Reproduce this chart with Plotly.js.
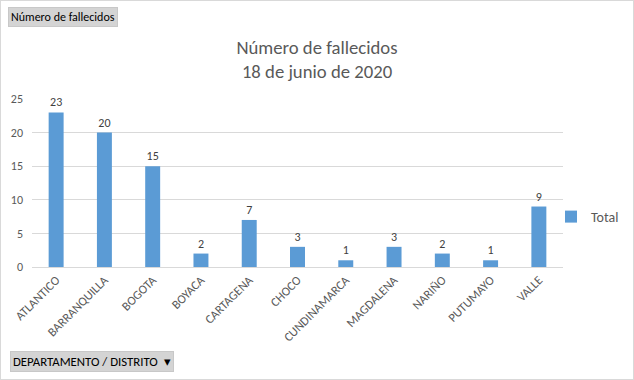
<!DOCTYPE html>
<html><head><meta charset="utf-8">
<script src="https://cdn.plot.ly/plotly-3.0.1.min.js"></script>
<style>html,body{margin:0;padding:0;background:#fff;}#c{width:632px;height:378px;border:1px solid #d9d9d9;}</style>
</head><body><div id="c"></div>
<script>
const categories = ["ATLANTICO","BARRANQUILLA","BOGOTA","BOYACA","CARTAGENA","CHOCO","CUNDINAMARCA","MAGDALENA","NARIÑO","PUTUMAYO","VALLE"];
const totals = [23,20,15,2,7,3,1,3,2,1,9];
const yTicks = [0,5,10,15,20,25];
const font = "Calibri, Carlito, 'Open Sans', 'Liberation Sans', sans-serif";
const W = 632, H = 378, L = 31, R = 0, T = 98, B = 112;
const pw = W - L - R, ph = H - T - B;
const px = x => (x - 1 - L) / pw;
const py = y => (H - B - (y - 1)) / ph;
Plotly.newPlot('c', [{
  type: 'bar', x: categories, y: totals, name: 'Total',
  marker: {color: '#5b9bd5'},
  text: totals.map(String), textposition: 'outside', cliponaxis: false,
  textfont: {family: font, size: 12, color: '#404040'}
}], {
  width: W, height: H,
  margin: {l: L, r: R, t: T, b: B},
  paper_bgcolor: '#fff', plot_bgcolor: '#fff',
  bargap: 0.69,
  title: {text: 'Número de fallecidos<br>18 de junio de 2020', font: {family: font, size: 18.7, color: '#595959'},
    xref: 'container', x: 316/W, xanchor: 'center', y: 1 - 53/H, yanchor: 'top'},
  xaxis: {domain: [0, px(563)], tickangle: -45, tickfont: {family: font, size: 12.4, color: '#595959'}, showline: true, linecolor: '#d9d9d9', ticks: '', showgrid: false},
  yaxis: {range: [0, 25], tickvals: yTicks, tickfont: {family: font, size: 12, color: '#595959'}, gridcolor: '#d9d9d9', zeroline: false, showline: false, ticks: '', ticklabelstandoff: 8},
  showlegend: true,
  legend: {x: px(624), xanchor: 'right', y: py(217), yanchor: 'middle', font: {family: font, size: 14, color: '#595959'}, bgcolor: 'rgba(0,0,0,0)', itemwidth: 30},
  annotations: [
    {text: 'Número de fallecidos', xref: 'paper', yref: 'paper', x: px(8), y: py(17), xanchor: 'left', yanchor: 'middle', showarrow: false,
     font: {family: font, size: 12, color: '#000'}, bgcolor: '#d4d4d4', bordercolor: '#c8c8c8', borderwidth: 1, borderpad: 2},
    {text: 'DEPARTAMENTO / DISTRITO&nbsp;&nbsp;▾', xref: 'paper', yref: 'paper', x: px(10), y: py(361), xanchor: 'left', yanchor: 'middle', showarrow: false,
     font: {family: font, size: 12.8, color: '#000'}, bgcolor: '#d4d4d4', bordercolor: '#c8c8c8', borderwidth: 1, borderpad: 2}
  ]
}, {displayModeBar: false, staticPlot: true});
</script></body></html>
